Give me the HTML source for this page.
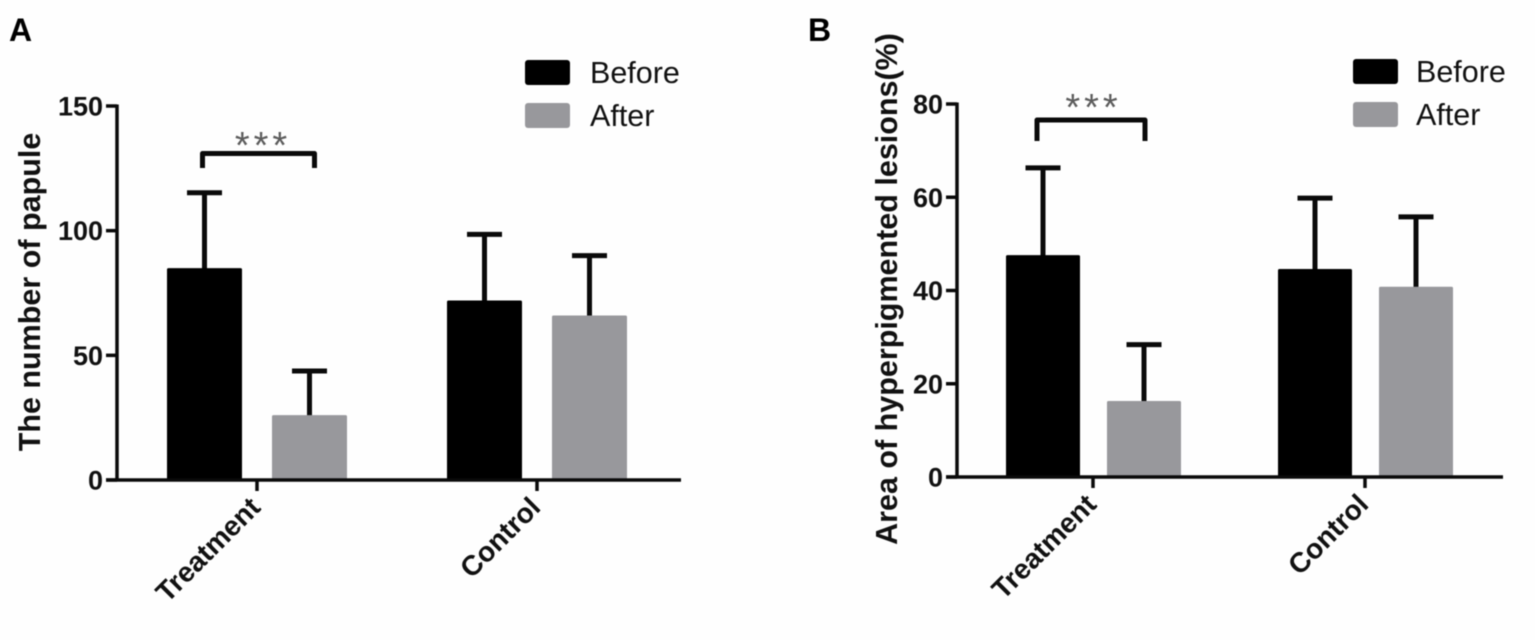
<!DOCTYPE html>
<html lang="en">
<head>
<meta charset="utf-8">
<title>Papule count and hyperpigmented lesion area, before and after</title>
<style>
html,body{margin:0;padding:0;background:#fff;width:1535px;height:640px;overflow:hidden}
svg{display:block;filter:blur(.55px)}
text{font-family:"Liberation Sans",Arial,sans-serif;fill:#111}
</style>
</head>
<body>
<svg id="figure" xmlns="http://www.w3.org/2000/svg" width="1535" height="640" viewBox="0 0 1535 640">
<rect x="0" y="0" width="1535" height="640" fill="#fefefe"/>
<g id="panel-a"></g>
<g id="panel-b"></g>
</svg>
<script>
const categories = ['Treatment', 'Control'];
const seriesNames = ['Before', 'After'];
const seriesColors = ['#000000', '#98989c'];

const papuleBefore = [85, 72];
const papuleBeforeErrorTop = [115.2, 98.5];
const papuleAfter = [26, 66];
const papuleAfterErrorTop = [43.7, 90];
const papuleTicks = [0, 50, 100, 150];

const lesionBefore = [47.6, 44.6];
const lesionBeforeErrorTop = [66.3, 59.8];
const lesionAfter = [16.3, 40.8];
const lesionAfterErrorTop = [28.4, 55.8];
const lesionTicks = [0, 20, 40, 60, 80];

const NS = 'http://www.w3.org/2000/svg';

function make(parent, tag, attrs, text) {
  const el = document.createElementNS(NS, tag);
  for (const k in attrs) el.setAttribute(k, attrs[k]);
  if (text !== undefined) el.textContent = text;
  parent.appendChild(el);
  return el;
}

function line(parent, x1, y1, x2, y2, width, name) {
  const el = make(parent, 'line', {x1: x1, y1: y1, x2: x2, y2: y2, stroke: '#0a0a0a', 'stroke-width': width});
  
  
  return el;
}

function drawPanel(root, cfg) {
  const maxTick = cfg.ticks[cfg.ticks.length - 1];
  const yScale = v => cfg.y0 - (v / maxTick) * (cfg.y0 - cfg.yTop);
  const xCenter = i => cfg.cat0 + i * cfg.catStep;

  const letter = make(root, 'text', {x: cfg.letterX, y: 41, 'font-size': 32, 'font-weight': 'bold', style: 'fill:#000'}, cfg.letter);
  
  

  const title = make(root, 'text', {
    transform: 'translate(' + cfg.titleX + ',' + cfg.titleY + ') rotate(-90)',
    'text-anchor': 'middle', 'font-size': cfg.titleSize, 'font-weight': 'bold'
  }, cfg.title);
  
  

  cfg.series.forEach((s, si) => {
    categories.forEach((cat, ci) => {
      const cx = xCenter(ci) + cfg.offsets[si];
      const top = yScale(s.values[ci]);
      const errTop = yScale(s.errors[ci]);
      const stem = line(root, cx, top + 1, cx, errTop, 5, 'error-bar-stem');
      const cap = line(root, cx - 17.5, errTop, cx + 17.5, errTop, 5, 'error-bar-cap');
      const bar = make(root, 'rect', {
        x: cx - cfg.barW / 2, y: top, width: cfg.barW, height: cfg.y0 - top,
        fill: seriesColors[si], rx: 1.5
      });
      
      
    });
  });

  line(root, cfg.axisX, cfg.yTop - 1.5, cfg.axisX, cfg.y0 + 1.5, 3.5, 'y-axis');
  line(root, cfg.axisX - 11, cfg.y0, cfg.axisEnd, cfg.y0, 3.5, 'x-axis');

  cfg.ticks.forEach(t => {
    const y = yScale(t);
    line(root, cfg.axisX - 11, y, cfg.axisX, y, 3.5, 'y-tick');
    const lab = make(root, 'text', {
      x: cfg.axisX - 14, y: y + 9.5, 'text-anchor': 'end', 'font-size': 27, 'font-weight': 'bold'
    }, String(t));
    
    
  });

  categories.forEach((cat, ci) => {
    const x = xCenter(ci);
    line(root, x, cfg.y0, x, cfg.y0 + 11, 3.5, 'x-tick');
    const lab = make(root, 'text', {
      transform: 'translate(' + (x + 5) + ',' + (cfg.y0 + 29) + ') rotate(-45)',
      'text-anchor': 'end', 'font-size': 28, 'font-weight': 'bold'
    }, cat);
    
    
  });

  const b = cfg.bracket;
  const bracket = make(root, 'path', {
    d: 'M' + b.x1 + ' ' + b.yBottom + 'V' + b.y + 'H' + b.x2 + 'V' + b.yBottom,
    fill: 'none', stroke: '#0a0a0a', 'stroke-width': 5, 'stroke-linejoin': 'round'
  });
  
  
  const stars = make(root, 'text', {
    x: b.starX, y: b.starY, 'text-anchor': 'middle', 'font-size': 38,
    'letter-spacing': 4, style: 'fill:#5c5c5c'
  }, '***');
  
  

  seriesNames.forEach((name, i) => {
    const y = cfg.legendY + i * cfg.legendStep;
    const sw = make(root, 'rect', {x: cfg.legendX, y: y, width: 45, height: 25, rx: 3, fill: seriesColors[i]});
    
    
    const tx = make(root, 'text', {x: cfg.legendX + cfg.legendGap, y: y + 23, 'font-size': 30.5}, name);
    
    
  });
}

drawPanel(document.getElementById('panel-a'), {
  letter: 'A', letterX: 9,
  title: 'The number of papule', titleX: 40, titleY: 292, titleSize: 30.5,
  ticks: papuleTicks,
  series: [
    {values: papuleBefore, errors: papuleBeforeErrorTop},
    {values: papuleAfter, errors: papuleAfterErrorTop}
  ],
  y0: 480, yTop: 106, axisX: 117, axisEnd: 681,
  cat0: 257, catStep: 280, offsets: [-52.5, 52.5], barW: 75,
  bracket: {x1: 202.5, x2: 314.5, y: 153.5, yBottom: 168, starX: 263, starY: 158},
  legendX: 525, legendY: 60, legendStep: 43, legendGap: 65
});

drawPanel(document.getElementById('panel-b'), {
  letter: 'B', letterX: 808,
  title: 'Area of hyperpigmented lesions(%)', titleX: 897, titleY: 289, titleSize: 30.5,
  ticks: lesionTicks,
  series: [
    {values: lesionBefore, errors: lesionBeforeErrorTop},
    {values: lesionAfter, errors: lesionAfterErrorTop}
  ],
  y0: 477, yTop: 104, axisX: 957, axisEnd: 1503,
  cat0: 1093, catStep: 272, offsets: [-50, 51], barW: 74,
  bracket: {x1: 1037, x2: 1145, y: 120, yBottom: 141, starX: 1093.5, starY: 120},
  legendX: 1353, legendY: 59, legendStep: 43, legendGap: 63
});
</script>
</body>
</html>
